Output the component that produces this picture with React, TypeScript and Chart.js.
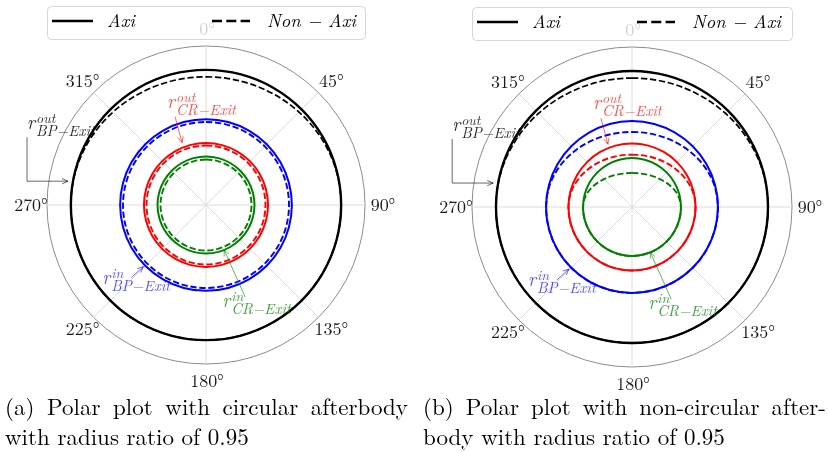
import React, { useEffect, useRef } from 'react';
import { Chart, registerables } from 'chart.js';

Chart.register(...registerables);

// ---------- data ----------
const ANGLES = [0, 15, 30, 45, 60, 75, 90, 105, 120, 135, 150, 165, 180, 195, 210, 225, 240, 255, 270, 285, 300, 315, 330, 345];
const THETA_TICKS = [0, 45, 90, 135, 180, 225, 270, 315];
const THETA_TICK_LABELS = ['0°', '45°', '90°', '135°', '180°', '225°', '270°', '315°'];
const LEGEND_LABELS = ['Axi', 'Non − Axi'];

// (a) circular afterbody
const A_BP_OUT_AXI = [0.85, 0.85, 0.85, 0.85, 0.85, 0.85, 0.85, 0.85, 0.85, 0.85, 0.85, 0.85, 0.85, 0.85, 0.85, 0.85, 0.85, 0.85, 0.85, 0.85, 0.85, 0.85, 0.85, 0.85];
const A_BP_OUT_NON = [0.806, 0.809, 0.816, 0.827, 0.838, 0.847, 0.85, 0.85, 0.85, 0.85, 0.85, 0.85, 0.85, 0.85, 0.85, 0.85, 0.85, 0.85, 0.85, 0.847, 0.838, 0.827, 0.816, 0.809];
const A_BP_IN_AXI = [0.54, 0.54, 0.54, 0.54, 0.54, 0.54, 0.54, 0.54, 0.54, 0.54, 0.54, 0.54, 0.54, 0.54, 0.54, 0.54, 0.54, 0.54, 0.54, 0.54, 0.54, 0.54, 0.54, 0.54];
const A_BP_IN_NON = [0.522, 0.522, 0.522, 0.522, 0.522, 0.522, 0.522, 0.522, 0.522, 0.522, 0.522, 0.522, 0.522, 0.522, 0.522, 0.522, 0.522, 0.522, 0.522, 0.522, 0.522, 0.522, 0.522, 0.522];
const A_CR_OUT_AXI = [0.39, 0.39, 0.39, 0.39, 0.39, 0.39, 0.39, 0.39, 0.39, 0.39, 0.39, 0.39, 0.39, 0.39, 0.39, 0.39, 0.39, 0.39, 0.39, 0.39, 0.39, 0.39, 0.39, 0.39];
const A_CR_OUT_NON = [0.374, 0.374, 0.374, 0.374, 0.374, 0.374, 0.374, 0.374, 0.374, 0.374, 0.374, 0.374, 0.374, 0.374, 0.374, 0.374, 0.374, 0.374, 0.374, 0.374, 0.374, 0.374, 0.374, 0.374];
const A_CR_IN_AXI = [0.305, 0.305, 0.305, 0.305, 0.305, 0.305, 0.305, 0.305, 0.305, 0.305, 0.305, 0.305, 0.305, 0.305, 0.305, 0.305, 0.305, 0.305, 0.305, 0.305, 0.305, 0.305, 0.305, 0.305];
const A_CR_IN_NON = [0.286, 0.286, 0.286, 0.286, 0.286, 0.286, 0.286, 0.286, 0.286, 0.286, 0.286, 0.286, 0.286, 0.286, 0.286, 0.286, 0.286, 0.286, 0.286, 0.286, 0.286, 0.286, 0.286, 0.286];

// (b) non-circular afterbody
const B_BP_OUT_AXI = [0.85, 0.85, 0.85, 0.85, 0.85, 0.85, 0.85, 0.85, 0.85, 0.85, 0.85, 0.85, 0.85, 0.85, 0.85, 0.85, 0.85, 0.85, 0.85, 0.85, 0.85, 0.85, 0.85, 0.85];
const B_BP_OUT_NON = [0.806, 0.809, 0.816, 0.827, 0.838, 0.847, 0.85, 0.85, 0.85, 0.85, 0.85, 0.85, 0.85, 0.85, 0.85, 0.85, 0.85, 0.85, 0.85, 0.847, 0.838, 0.827, 0.816, 0.809];
const B_BP_IN_AXI = [0.537, 0.537, 0.537, 0.537, 0.537, 0.537, 0.537, 0.537, 0.537, 0.537, 0.537, 0.537, 0.537, 0.537, 0.537, 0.537, 0.537, 0.537, 0.537, 0.537, 0.537, 0.537, 0.537, 0.537];
const B_BP_IN_NON = [0.469, 0.473, 0.484, 0.5, 0.518, 0.532, 0.537, 0.537, 0.537, 0.537, 0.537, 0.537, 0.537, 0.537, 0.537, 0.537, 0.537, 0.537, 0.537, 0.532, 0.518, 0.5, 0.484, 0.473];
const B_CR_OUT_AXI = [0.397, 0.397, 0.397, 0.397, 0.397, 0.397, 0.397, 0.397, 0.397, 0.397, 0.397, 0.397, 0.397, 0.397, 0.397, 0.397, 0.397, 0.397, 0.397, 0.397, 0.397, 0.397, 0.397, 0.397];
const B_CR_OUT_NON = [0.327, 0.331, 0.341, 0.357, 0.375, 0.391, 0.397, 0.397, 0.397, 0.397, 0.397, 0.397, 0.397, 0.397, 0.397, 0.397, 0.397, 0.397, 0.397, 0.391, 0.375, 0.357, 0.341, 0.331];
const B_CR_IN_AXI = [0.306, 0.306, 0.306, 0.306, 0.306, 0.306, 0.306, 0.306, 0.306, 0.306, 0.306, 0.306, 0.306, 0.306, 0.306, 0.306, 0.306, 0.306, 0.306, 0.306, 0.306, 0.306, 0.306, 0.306];
const B_CR_IN_NON = [0.213, 0.216, 0.228, 0.247, 0.272, 0.296, 0.306, 0.306, 0.306, 0.306, 0.306, 0.306, 0.306, 0.306, 0.306, 0.306, 0.306, 0.306, 0.306, 0.296, 0.272, 0.247, 0.228, 0.216];

// ---------- styles ----------
const COLORS: Record<string, string> = { bpOut: '#000000', bpIn: '#0000ff', crOut: '#ff0000', crIn: '#008000' };
const WIDTHS: Record<string, [number, number]> = { bpOut: [2.4, 1.7], bpIn: [2.0, 1.9], crOut: [2.0, 1.9], crIn: [2.0, 1.9] };
const DASH = [6.3, 2.7];

type Ann = {
  key: string; sup: string; sub: string; tip: [number, number]; text: [number, number];
  start: [number, number] | null; textColor: string; arrowColor: string;
};
const ANNOTATIONS: Ann[] = [
  { key: 'bpOut', sup: 'out', sub: 'BP−Exit', tip: [280, 0.862], text: [-44, -52], start: null, textColor: 'rgba(0,0,0,0.85)', arrowColor: 'rgba(0,0,0,0.6)' },
  { key: 'crOut', sup: 'out', sub: 'CR−Exit', tip: [339, 0.42], text: [-15, -35], start: [-7, -26], textColor: 'rgba(255,0,0,0.7)', arrowColor: 'rgba(255,0,0,0.6)' },
  { key: 'bpIn', sup: 'in', sub: 'BP−Exit', tip: [225.5, 0.553], text: [-41, 17], start: [-12, 11], textColor: 'rgba(0,0,255,0.7)', arrowColor: 'rgba(0,0,255,0.6)' },
  { key: 'crIn', sup: 'in', sub: 'CR−Exit', tip: [158, 0.305], text: [-2, 57], start: [21, 47], textColor: 'rgba(0,128,0,0.75)', arrowColor: 'rgba(0,128,0,0.6)' },
];

type Series = { key: string; axi: number[]; non: number[] };
const PANEL_A: Series[] = [
  { key: 'bpOut', axi: A_BP_OUT_AXI, non: A_BP_OUT_NON },
  { key: 'bpIn', axi: A_BP_IN_AXI, non: A_BP_IN_NON },
  { key: 'crOut', axi: A_CR_OUT_AXI, non: A_CR_OUT_NON },
  { key: 'crIn', axi: A_CR_IN_AXI, non: A_CR_IN_NON },
];
const PANEL_B: Series[] = [
  { key: 'bpOut', axi: B_BP_OUT_AXI, non: B_BP_OUT_NON },
  { key: 'bpIn', axi: B_BP_IN_AXI, non: B_BP_IN_NON },
  { key: 'crOut', axi: B_CR_OUT_AXI, non: B_CR_OUT_NON },
  { key: 'crIn', axi: B_CR_IN_AXI, non: B_CR_IN_NON },
];

const LM = '"Latin Modern Roman", "Liberation Serif", serif';

function polarPoint(scale: any, deg: number, value: number) {
  const a = ((deg - 90) * Math.PI) / 180;
  const d = scale.getDistanceFromCenterForValue(value);
  return { x: scale.xCenter + Math.cos(a) * d, y: scale.yCenter + Math.sin(a) * d };
}

function arrowHead(ctx: CanvasRenderingContext2D, from: { x: number; y: number }, to: { x: number; y: number }) {
  const ang = Math.atan2(to.y - from.y, to.x - from.x);
  const L = 6.5;
  const w = 0.42;
  ctx.beginPath();
  ctx.moveTo(to.x - L * Math.cos(ang - w), to.y - L * Math.sin(ang - w));
  ctx.lineTo(to.x, to.y);
  ctx.lineTo(to.x - L * Math.cos(ang + w), to.y - L * Math.sin(ang + w));
  ctx.stroke();
}

const overlayPlugin = {
  id: 'polarOverlay',
  afterDraw(chart: any) {
    const ctx: CanvasRenderingContext2D = chart.ctx;
    const scale = chart.scales.r;
    const area = chart.chartArea;
    ctx.save();

    // theta tick labels
    ctx.fillStyle = '#1a1a1a';
    ctx.font = `18px ${LM}`;
    ctx.textAlign = 'center';
    ctx.textBaseline = 'alphabetic';
    THETA_TICKS.forEach((t, i) => {
      const idx = ANGLES.indexOf(t);
      const p = scale.getPointPosition(idx, scale.drawingArea + 17);
      ctx.fillText(THETA_TICK_LABELS[i], p.x + 1, p.y + 6);
    });

    // annotations
    ANNOTATIONS.forEach((a) => {
      const tip = polarPoint(scale, a.tip[0], a.tip[1]);
      const tx = tip.x + a.text[0];
      const ty = tip.y + a.text[1];
      ctx.fillStyle = a.textColor;
      ctx.textAlign = 'left';
      ctx.font = `italic 19px ${LM}`;
      ctx.fillText('r', tx, ty);
      const rw = ctx.measureText('r').width;
      ctx.font = `italic 14px ${LM}`;
      ctx.fillText(a.sup, tx + rw + 1, ty - 6);
      ctx.font = `italic 15px ${LM}`;
      ctx.fillText(a.sub, tx + rw + 1, ty + 7);

      ctx.strokeStyle = a.arrowColor;
      ctx.lineWidth = 1;
      ctx.setLineDash([]);
      if (a.start === null) {
        const s = { x: tx, y: ty + 8 };
        const c = { x: tx, y: tip.y };
        const e = { x: tip.x - 3, y: tip.y };
        ctx.beginPath();
        ctx.moveTo(s.x, s.y);
        ctx.lineTo(c.x, c.y);
        ctx.lineTo(e.x, e.y);
        ctx.stroke();
        arrowHead(ctx, c, e);
      } else {
        const s = { x: tip.x + a.start[0], y: tip.y + a.start[1] };
        ctx.beginPath();
        ctx.moveTo(s.x, s.y);
        ctx.lineTo(tip.x, tip.y);
        ctx.stroke();
        arrowHead(ctx, s, tip);
      }
    });

    // legend box (overlapping the plot, semi-transparent)
    const x0 = area.left;
    const x1 = area.right;
    const y0 = area.top - 40;
    const y1 = area.top - 7;
    ctx.beginPath();
    ctx.roundRect(x0 + 0.5, y0 + 0.5, x1 - x0, y1 - y0, 4);
    ctx.fillStyle = 'rgba(255,255,255,0.8)';
    ctx.fill();
    ctx.strokeStyle = '#d6d6d6';
    ctx.lineWidth = 1;
    ctx.stroke();

    const ly = y0 + 15;
    ctx.strokeStyle = '#000';
    ctx.lineWidth = 2.7;
    ctx.setLineDash([]);
    ctx.beginPath();
    ctx.moveTo(x0 + 5, ly);
    ctx.lineTo(x0 + 46, ly);
    ctx.stroke();
    ctx.setLineDash([10, 4.3]);
    ctx.beginPath();
    ctx.moveTo(x0 + 165, ly);
    ctx.lineTo(x0 + 203, ly);
    ctx.stroke();
    ctx.setLineDash([]);
    ctx.fillStyle = '#000';
    ctx.font = `italic 18.5px ${LM}`;
    ctx.textAlign = 'left';
    ctx.fillText(LEGEND_LABELS[0], x0 + 60, y0 + 21);
    ctx.fillText(LEGEND_LABELS[1], x0 + 220, y0 + 21);

    ctx.restore();
  },
};

function PolarChart({ panel, padding, left }: { panel: Series[]; padding: any; left: number }) {
  const ref = useRef<HTMLCanvasElement | null>(null);
  useEffect(() => {
    if (!ref.current) return;
    const datasets: any[] = [];
    panel.forEach((s) => {
      datasets.push({
        label: s.key + ' Axi',
        data: s.axi,
        borderColor: COLORS[s.key],
        backgroundColor: 'transparent',
        borderWidth: WIDTHS[s.key][0],
        borderDash: [],
        fill: false,
      });
      datasets.push({
        label: s.key + ' Non-Axi',
        data: s.non,
        borderColor: COLORS[s.key],
        backgroundColor: 'transparent',
        borderWidth: WIDTHS[s.key][1],
        borderDash: DASH,
        fill: false,
      });
    });
    let chart: Chart | null = null;
    let cancelled = false;
    chart = new Chart(ref.current, {
      type: 'radar',
      data: { labels: ANGLES.map((a) => String(a)), datasets },
      options: {
        responsive: false,
        animation: false,
        devicePixelRatio: 1,
        layout: { padding },
        events: [],
        plugins: { legend: { display: false }, tooltip: { enabled: false } },
        elements: {
          point: { radius: 0, hoverRadius: 0 },
          line: { tension: 0.34, fill: false },
        },
        scales: {
          r: {
            min: 0,
            max: 1,
            startAngle: 0,
            ticks: { display: false, stepSize: 1 },
            grid: { circular: true, color: '#8c8c8c', lineWidth: 1 },
            angleLines: {
              display: true,
              color: '#dcdcdc',
              lineWidth: (c: any) => (c.index % 3 === 0 ? 1 : 0),
            },
            pointLabels: { display: false },
          },
        },
      } as any,
      plugins: [overlayPlugin],
    });
    // redraw once the local fonts are ready (text drawn on the canvas)
    const fonts: any = (document as any).fonts;
    if (fonts && fonts.load) {
      Promise.all([
        fonts.load(`18px "Latin Modern Roman"`),
        fonts.load(`italic 18px "Latin Modern Roman"`),
      ]).then(() => {
        if (!cancelled && chart) chart.draw();
      }).catch(() => {});
    }
    return () => {
      cancelled = true;
      if (chart) chart.destroy();
    };
  }, [panel, padding]);
  return (
    <canvas
      ref={ref}
      width={414}
      height={390}
      style={{ position: 'absolute', left, top: 0, width: 414, height: 390, display: 'block' }}
    />
  );
}

const PAD_A = { left: 47, top: 46, right: 49, bottom: 26 };
const PAD_B = { left: 58, top: 47, right: 36, bottom: 23 };

const captionBox: React.CSSProperties = {
  position: 'absolute',
  top: 391,
  width: 403,
  fontFamily: LM,
  fontSize: 23,
  lineHeight: '30px',
  color: '#000',
};

export default function App() {
  return (
    <div style={{ position: 'absolute', left: 0, top: 0, width: 828, height: 453, background: '#fff', overflow: 'hidden' }}>
      <PolarChart panel={PANEL_A} padding={PAD_A} left={0} />
      <PolarChart panel={PANEL_B} padding={PAD_B} left={414} />
      <div style={{ ...captionBox, left: 5 }}>
        <div style={{ textAlign: 'justify', textAlignLast: 'justify' }}>(a) Polar plot with circular afterbody</div>
        <div>with radius ratio of 0.95</div>
      </div>
      <div style={{ ...captionBox, left: 423 }}>
        <div style={{ textAlign: 'justify', textAlignLast: 'justify' }}>(b) Polar plot with non-circular after-</div>
        <div>body with radius ratio of 0.95</div>
      </div>
    </div>
  );
}
